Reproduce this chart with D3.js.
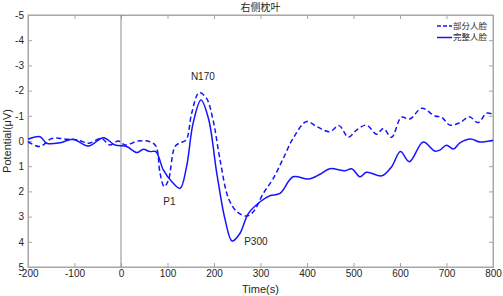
<!DOCTYPE html>
<html>
<head>
<meta charset="utf-8">
<script src="https://cdn.jsdelivr.net/npm/d3@7"></script>
<style>
  body { margin: 0; background: #fff; }
  text { font-family: "Liberation Sans", Arial, sans-serif; }
</style>
</head>
<body>
<svg id="chart" width="503" height="296"></svg>
<script>
var titleText = "右侧枕叶";
var seriesNames = ["部分人脸", "完整人脸"];
var xTicks = [-200, -100, 0, 100, 200, 300, 400, 500, 600, 700, 800];
var yTicks = [-5, -4, -3, -2, -1, 0, 1, 2, 3, 4, 5];

// 部分人脸 (dashed)
var partTime = [-200, -174, -149, -117, -92, -70, -42, -24, -6, 9, 37, 62, 75, 84, 93, 102, 116, 127, 140, 152, 168, 184, 198,
  213, 231, 249, 270, 285, 306, 327, 349, 370, 399, 421, 449, 469, 489, 507, 528, 550, 564, 582, 603, 621, 647, 675, 690,
  707, 729, 749, 768, 786, 800];
var partVal = [0.03, 0.22, -0.1, -0.07, -0.04, 0.09, -0.1, 0.16, 0, 0.16, 0, 0.03, 0.2, 1.28, 1.81, 1.55, 0.22, 0.07, -0.04, -1.1, -1.92, -1.69, -0.83,
  0.75, 2.27, 2.8, 2.98, 2.8, 2.08, 1.5, 0.69, -0.1, -0.77, -0.57, -0.37, -0.61, -0.15, -0.44, -0.63, -0.27, -0.5, -0.15, -0.94, -0.87, -1.3, -0.99, -0.94,
  -0.63, -0.73, -0.96, -0.73, -1.1, -1.06];

// 完整人脸 (solid)
var fullTime = [-200, -174, -160, -131, -103, -70, -38, -13, 12, 34, 48, 62, 75, 91, 109, 127, 141, 155, 172, 188, 206, 224,
  239, 256, 274, 300, 320, 342, 370, 403, 428, 449, 482, 496, 514, 528, 561, 582, 601, 620, 650, 675, 686, 700, 715, 729,
  752, 772, 800];
var fullVal = [-0.07, -0.17, 0.09, 0.07, -0.07, 0.2, -0.13, 0.16, 0.22, 0.46, 0.33, 0.42, 0.42, 1.15, 1.61, 1.88, 1.02, -0.7, -1.63, -0.9, 1.28, 3.13,
  3.97, 3.66, 2.87, 2.4, 2.17, 2.08, 1.42, 1.51, 1.32, 1.1, 1.18, 1.1, 1.42, 1.24, 1.38, 1.02, 0.42, 0.82, 0.04, 0.4, 0.36, 0.17, 0.32, 0.07,
  -0.08, 0.04, -0.03];

// peak labels
var peakNames = ["N170", "P1", "P300"];
var peakTime = [176, 104, 290];
var peakVal = [-2.54, 2.42, 4.0];

var svg = d3.select("#chart");
var pLeft = 28, pRight = 493, pTop = 15, pBottom = 267;
var axisColor = "#a6a6a6", textColor = "#262626", lineColor = "#1414ff";

var x = d3.scaleLinear().domain([-200, 800]).range([pLeft, pRight]);
var y = d3.scaleLinear().domain([-5, 5]).range([pTop, pBottom]);

// box
svg.append("rect")
  .attr("x", pLeft).attr("y", pTop)
  .attr("width", pRight - pLeft).attr("height", pBottom - pTop)
  .attr("fill", "none").attr("stroke", axisColor).attr("stroke-width", 1);

// axes with inward ticks
var fmt = d => String(d);
var gx = svg.append("g").attr("transform", "translate(0," + pBottom + ")")
  .call(d3.axisBottom(x).tickValues(xTicks).tickSizeInner(-4).tickSizeOuter(0).tickPadding(3).tickFormat(fmt));
var gxTop = svg.append("g").attr("transform", "translate(0," + pTop + ")")
  .call(d3.axisTop(x).tickValues(xTicks).tickSizeInner(-4).tickSizeOuter(0).tickFormat(""));
var gy = svg.append("g").attr("transform", "translate(" + pLeft + ",0)")
  .call(d3.axisLeft(y).tickValues(yTicks).tickSizeInner(-4).tickSizeOuter(0).tickPadding(4).tickFormat(fmt));
var gyRight = svg.append("g").attr("transform", "translate(" + pRight + ",0)")
  .call(d3.axisRight(y).tickValues(yTicks).tickSizeInner(-4).tickSizeOuter(0).tickFormat(""));

[gx, gxTop, gy, gyRight].forEach(function (g) {
  g.select(".domain").attr("stroke", axisColor);
  g.selectAll(".tick line").attr("stroke", axisColor);
  g.selectAll(".tick text").attr("fill", textColor).style("font-size", "10px")
    .style("font-family", "'Liberation Sans', Arial, sans-serif");
});

// zero time line
svg.append("line")
  .attr("x1", x(0)).attr("x2", x(0)).attr("y1", pTop).attr("y2", pBottom)
  .attr("stroke", "#8c8c8c").attr("stroke-width", 1);

var line = d3.line()
  .x(d => x(d[0]))
  .y(d => y(d[1]))
  .curve(d3.curveCatmullRom.alpha(0.5));

svg.append("path")
  .datum(partTime.map((t, i) => [t, partVal[i]]))
  .attr("d", line)
  .attr("fill", "none").attr("stroke", lineColor).attr("stroke-width", 1.5)
  .attr("stroke-dasharray", "5,3");

svg.append("path")
  .datum(fullTime.map((t, i) => [t, fullVal[i]]))
  .attr("d", line)
  .attr("fill", "none").attr("stroke", lineColor).attr("stroke-width", 1.5);

// peak labels
svg.selectAll(".peak").data(peakNames).enter().append("text")
  .attr("class", "peak")
  .attr("x", (d, i) => x(peakTime[i]))
  .attr("y", (d, i) => y(peakVal[i]))
  .attr("text-anchor", "middle").attr("dy", "0.35em")
  .attr("fill", textColor).style("font-size", "10px")
  .text(d => d);

// title and axis labels
svg.append("text")
  .attr("x", (pLeft + pRight) / 2).attr("y", 11)
  .attr("text-anchor", "middle").attr("fill", textColor)
  .style("font-family", "'Noto Sans CJK SC', sans-serif").style("font-size", "10px")
  .text(titleText);

svg.append("text")
  .attr("x", (pLeft + pRight) / 2).attr("y", 293)
  .attr("text-anchor", "middle").attr("fill", textColor).style("font-size", "11px")
  .text("Time(s)");

svg.append("text")
  .attr("transform", "translate(11," + ((pTop + pBottom) / 2) + ") rotate(-90)")
  .attr("text-anchor", "middle").attr("fill", textColor).style("font-size", "11px")
  .text("Potential(μV)");

// legend
var legend = svg.append("g").attr("transform", "translate(437,26)");
seriesNames.forEach(function (name, i) {
  var g = legend.append("g").attr("transform", "translate(0," + (i * 11.5) + ")");
  g.append("line").attr("x1", 0).attr("x2", 15).attr("y1", 0).attr("y2", 0)
    .attr("stroke", lineColor).attr("stroke-width", 1.5)
    .attr("stroke-dasharray", i === 0 ? "4,2" : null);
  g.append("text").attr("x", 16).attr("y", 0).attr("dy", "0.35em")
    .attr("fill", textColor)
    .style("font-family", "'Noto Sans CJK SC', sans-serif").style("font-size", "8.5px")
    .text(name);
});
</script>
</body>
</html>
